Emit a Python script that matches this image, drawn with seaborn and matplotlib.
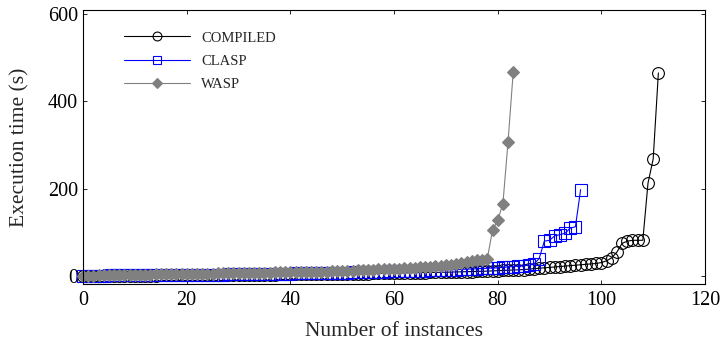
import numpy as np
import pandas as pd
import seaborn as sns
import matplotlib.pyplot as plt

# execution time (s) per solved instance, sorted
compiled = [
    0.3, 0.4, 0.5, 0.5, 0.6, 0.7, 0.8, 0.9, 1.0, 1.0,
    1.1, 1.2, 1.3, 1.3, 1.4, 1.5, 1.6, 1.7, 1.8, 1.9,
    2.0, 2.1, 2.2, 2.3, 2.4, 2.5, 2.6, 2.7, 2.8, 2.9,
    3.0, 3.1, 3.2, 3.3, 3.4, 3.5, 3.6, 3.7, 3.8, 3.9,
    4.0, 4.1, 4.2, 4.3, 4.4, 4.5, 4.7, 4.8, 5.0, 5.1,
    5.3, 5.4, 5.6, 5.7, 5.9, 6.0, 6.2, 6.4, 6.6, 6.8,
    7.0, 7.2, 7.4, 7.6, 7.8, 8.0, 8.2, 8.4, 8.6, 8.8,
    9.0, 9.3, 9.6, 9.9, 10.2, 10.5, 10.8, 11.0, 11.5, 12.0,
    12.5, 13.0, 13.5, 14.0, 14.5, 15.0, 16.0, 17.0, 18.0, 19.0,
    20.0, 21.0, 22.0, 23.0, 24.0, 25.0, 26.0, 27.0, 28.0, 29.0,
    31.0, 35.0, 42.0, 55.0, 75.0, 80.0, 82.0, 82.0, 82.0, 213.0, 268.0, 465.0,
]
clasp = [
    1.0, 1.1, 1.2, 1.3, 1.4, 1.5, 1.6, 1.7, 1.8, 1.9,
    2.0, 2.1, 2.2, 2.3, 2.4, 2.5, 2.6, 2.7, 2.8, 2.9,
    3.0, 3.1, 3.2, 3.3, 3.4, 3.5, 3.6, 3.7, 3.8, 3.9,
    4.0, 4.2, 4.4, 4.6, 4.8, 5.0, 5.2, 5.4, 5.6, 5.8,
    6.0, 6.2, 6.4, 6.6, 6.8, 7.0, 7.2, 7.4, 7.6, 7.8,
    8.0, 8.3, 8.6, 8.9, 9.2, 9.5, 9.8, 10.1, 10.4, 10.7,
    11.0, 11.3, 11.6, 11.9, 12.2, 12.5, 12.8, 13.1, 13.4, 13.7,
    14.0, 14.5, 15.0, 15.5, 16.0, 16.5, 17.0, 17.5, 18.0, 18.5,
    19.0, 20.0, 21.0, 22.0, 23.0, 24.0, 25.0, 28.0, 40.0, 80.0,
    82.0, 92.0, 95.0, 98.0, 110.0, 113.0, 198.0,
]
wasp = [
    1.0, 1.2, 1.4, 1.6, 1.8, 2.0, 2.2, 2.4, 2.6, 2.8,
    3.0, 3.2, 3.4, 3.6, 3.8, 4.0, 4.2, 4.4, 4.6, 4.8,
    5.0, 5.2, 5.4, 5.6, 5.8, 6.0, 6.2, 6.4, 6.6, 6.8,
    7.0, 7.2, 7.4, 7.6, 7.8, 8.0, 8.2, 8.4, 8.6, 8.8,
    9.0, 9.2, 9.4, 9.6, 9.8, 10.0, 10.2, 10.4, 10.6, 10.8,
    11.0, 11.3, 11.6, 14.0, 14.3, 14.6, 15.0, 15.3, 15.6, 16.0,
    16.5, 17.0, 17.5, 18.0, 19.0, 20.0, 21.0, 22.0, 23.0, 24.0,
    25.0, 26.0, 28.0, 30.0, 32.0, 34.0, 36.0, 38.0, 40.0, 105.0,
    128.0, 165.0, 308.0, 468.0,
]

sns.set_style("ticks")
plt.rcParams['font.family'] = ['Liberation Serif', 'DejaVu Serif']

fig = plt.figure(figsize=(7.2, 3.42), dpi=100)
ax = fig.add_axes([0.1153, 0.1696, 0.8639, 0.8012])

series = [
    ("COMPILED", compiled, "black", "o", "none", 8.5),
    ("CLASP", clasp, "#0000ff", "s", "none", 8.5),
    ("WASP", wasp, "#808080", "D", "#808080", 6.5),
]
for name, vals, col, mk, face, ms in series:
    df = pd.DataFrame({"x": np.arange(len(vals)), "y": vals})
    sns.lineplot(data=df, x="x", y="y", ax=ax, color=col, marker=mk,
                 markersize=ms, markerfacecolor=face, markeredgecolor=col,
                 markeredgewidth=0.8, linewidth=0.8, label=name, clip_on=False)

ax.set_xlim(0, 120)
ax.set_ylim(-18, 609)
ax.set_xticks([0, 20, 40, 60, 80, 100, 120])
ax.set_yticks([0, 200, 400, 600])
ax.tick_params(direction="in", length=3, width=0.6, top=True, right=True,
               labelsize=14.5, colors="black")
ax.tick_params(axis="x", pad=5)
for s in ax.spines.values():
    s.set_linewidth(0.8)
    s.set_color("black")
ax.set_xlabel("Number of instances", fontsize=15.5, labelpad=9)
ax.set_ylabel("Execution time (s)", fontsize=15.5, labelpad=13)

ax.legend(loc="upper left", bbox_to_anchor=(0.045, 0.97), frameon=False,
          fontsize=10.5, handlelength=4.5, labelspacing=0.7, handletextpad=0.8,
          markerscale=0.75)

fig.savefig("out.png", dpi=100)
